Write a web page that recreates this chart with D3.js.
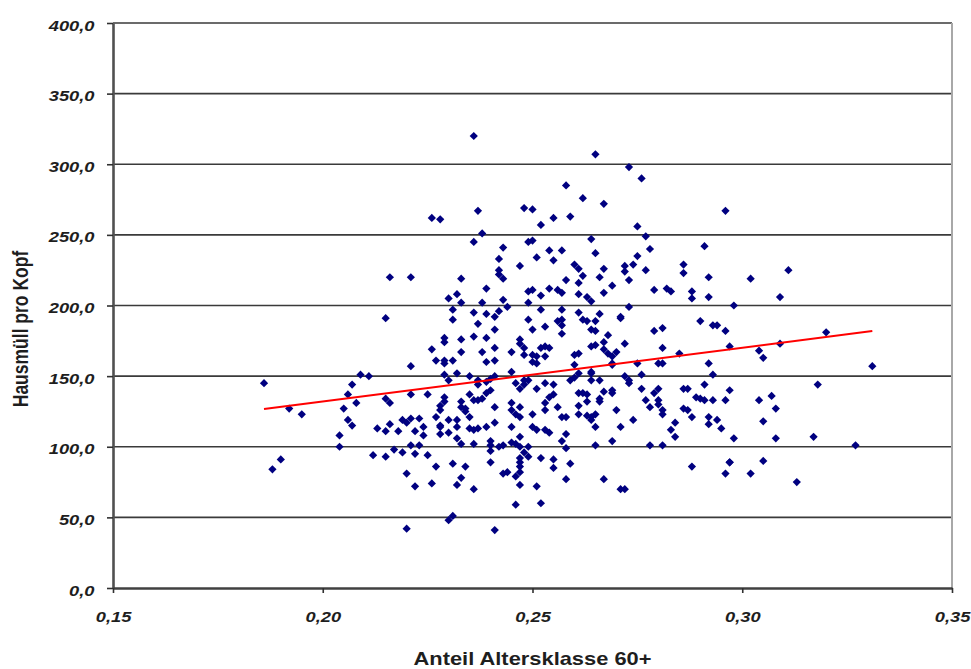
<!DOCTYPE html>
<html>
<head>
<meta charset="utf-8">
<title>Hausmüll pro Kopf</title>
<script src="https://cdn.jsdelivr.net/npm/d3@7"></script>
<style>
  html, body { margin: 0; padding: 0; background: #fff; }
  svg { display: block; font-family: "Liberation Sans", Arial, sans-serif; }
</style>
</head>
<body>
<svg id="chart" width="971" height="669"></svg>
<script>
// axis ticks
const xTicks = [0.15, 0.20, 0.25, 0.30, 0.35];
const yTicks = [0, 50, 100, 150, 200, 250, 300, 350, 400];

// trend line y = intercept + slope * x
const trendSlope = 380.4;
const trendIntercept = 56.0;

// Anteil Altersklasse 60+  vs  Hausmüll pro Kopf
const points = [
  // left part
  [0.186,145],[0.188,84],[0.190,91],[0.192,127],[0.195,123],
  [0.204,108],[0.204,100],[0.205,127],[0.206,119],[0.207,115],[0.206,137],[0.207,144],[0.208,131],[0.209,151],[0.211,150],
  [0.212,94],[0.215,93],[0.213,113],[0.215,111],[0.215,134],[0.216,131],[0.216,116],
  [0.221,157],[0.221,137],[0.225,137],
  [0.217,98],[0.219,96],[0.218,111],[0.219,119],[0.220,117],[0.221,120],
  [0.220,81],[0.222,72],[0.220,42],[0.222,95],[0.225,94],[0.227,86],[0.226,74],
  [0.223,120],[0.224,114],[0.224,108],[0.222,111],[0.221,101],[0.223,101],
  // upper left middle
  [0.215,191],[0.216,220],[0.221,220],[0.226,262],[0.228,261],[0.236,320],[0.237,267],[0.238,251],[0.236,245],
  [0.243,241],[0.242,233],[0.247,228],[0.242,225],[0.242,222],[0.243,219],[0.233,219],[0.239,212],[0.232,208],
  [0.230,205],[0.233,202],[0.238,202],[0.243,204],[0.244,199],[0.231,197],[0.236,195],[0.239,194],[0.241,192],
  [0.242,196],[0.231,190],[0.237,187],[0.241,183],[0.248,269],[0.249,202],[0.249,245],[0.249,190],[0.249,210],
  [0.229,177],[0.236,178],[0.239,177],[0.233,176],[0.247,176],
  // upper right middle
  [0.265,307],[0.273,298],[0.276,290],[0.258,285],[0.262,276],[0.267,272],[0.250,268],[0.252,257],[0.255,262],
  [0.259,263],[0.296,267],[0.275,256],[0.277,249],[0.264,247],[0.250,246],[0.254,239],[0.257,239],[0.251,234],
  [0.255,232],[0.265,237],[0.278,240],[0.275,235],[0.291,242],[0.260,229],[0.261,226],[0.272,228],[0.274,229],
  [0.272,224],[0.267,226],[0.277,225],[0.286,229],[0.286,223],[0.292,220],[0.262,221],[0.261,216],[0.258,218],
  [0.266,220],[0.273,218],[0.269,214],[0.250,211],[0.254,212],[0.256,211],[0.257,209],[0.252,207],[0.261,208],
  [0.263,206],[0.264,203],[0.267,209],[0.279,211],[0.282,212],[0.283,210],[0.288,210],[0.288,205],[0.292,206],
  [0.252,197],[0.257,197],[0.261,195],[0.266,194],[0.273,199],[0.262,190],[0.263,189],[0.256,189],[0.257,190],
  [0.257,186],[0.265,189],[0.271,191],[0.271,192],[0.250,183],[0.253,185],[0.264,183],[0.265,182],[0.257,180],
  [0.268,179],[0.279,182],[0.281,184],[0.290,189],[0.293,186],[0.294,186],[0.296,182],
  // right part
  [0.302,219],[0.311,225],[0.298,200],[0.309,206],[0.304,168],[0.305,163],[0.309,173],[0.320,181],
  [0.331,157],[0.297,140],[0.304,133],[0.307,136],[0.308,127],[0.318,144],[0.305,118],[0.298,106],[0.308,106],
  [0.317,107],[0.327,101],[0.297,89],[0.305,90],[0.302,81],[0.313,75],
  // lower right middle
  [0.272,173],[0.264,171],[0.265,172],[0.267,174],[0.252,170],[0.253,171],[0.254,170],[0.250,165],[0.251,164],
  [0.253,164],[0.250,160],[0.251,159],[0.260,165],[0.261,166],[0.267,169],[0.268,166],[0.269,164],[0.270,167],
  [0.281,170],[0.285,166],[0.297,171],
  [0.260,158],[0.264,153],[0.264,152],[0.269,158],[0.269,159],[0.275,159],[0.280,159],[0.281,159],[0.292,159],[0.293,151],
  [0.249,147],[0.253,145],[0.259,147],[0.260,149],[0.261,152],[0.264,147],[0.266,147],[0.272,150],[0.273,147],
  [0.273,145],[0.276,151],
  [0.251,141],[0.255,144],[0.261,138],[0.262,138],[0.263,137],[0.267,139],[0.269,138],[0.269,140],[0.276,141],
  [0.279,138],[0.280,141],[0.286,141],[0.287,141],[0.291,144],
  [0.254,135],[0.255,137],[0.253,131],[0.253,126],[0.256,128],[0.261,129],[0.263,132],[0.266,134],[0.266,132],
  [0.277,133],[0.278,128],[0.280,133],[0.280,130],[0.281,126],[0.281,123],[0.289,135],[0.290,134],[0.291,133],
  [0.293,133],[0.296,133],
  [0.250,123],[0.257,121],[0.258,121],[0.261,123],[0.263,122],[0.264,121],[0.264,119],[0.265,123],[0.270,126],
  [0.274,119],[0.286,127],[0.287,126],[0.288,121],[0.292,121],[0.294,119],[0.292,116],[0.295,113],[0.284,117],
  [0.283,112],[0.284,107],
  [0.250,114],[0.251,112],[0.253,112],[0.254,110],[0.258,109],[0.257,104],[0.258,99],[0.265,114],[0.271,114],
  [0.269,104],[0.265,101],[0.278,101],[0.281,101],
  [0.252,92],[0.255,91],[0.255,85],[0.259,88],[0.258,77],[0.267,77],[0.271,70],[0.272,70],[0.288,86],[0.296,81],
  [0.251,72],[0.252,60],[0.297,89],
  // lower left middle
  [0.230,48],[0.231,51],[0.231,88],[0.234,86],[0.232,73],[0.233,78],[0.236,70],
  [0.226,169],[0.227,161],[0.229,161],[0.229,159],[0.229,174],[0.231,161],[0.233,167],[0.241,170],[0.238,167],
  [0.239,160],[0.241,161],[0.245,167],[0.247,173],[0.248,170],[0.248,165],
  [0.229,151],[0.230,147],[0.232,152],[0.235,150],[0.237,144],[0.237,147],[0.239,146],[0.240,148],[0.241,150],
  [0.245,153],[0.246,145],[0.247,141],[0.248,147],[0.248,144],
  [0.229,135],[0.229,132],[0.228,129],[0.228,126],[0.227,121],[0.230,119],[0.232,119],[0.233,132],[0.234,127],
  [0.234,125],[0.233,128],[0.235,137],[0.236,133],[0.237,133],[0.238,134],[0.239,138],[0.240,140],[0.241,128],
  [0.245,131],[0.245,126],[0.247,128],
  [0.228,114],[0.228,115],[0.228,109],[0.230,110],[0.232,114],[0.232,106],[0.233,102],[0.235,121],[0.236,112],
  [0.235,113],[0.236,102],[0.237,113],[0.239,114],[0.241,117],[0.240,104],[0.240,101],[0.242,100],[0.243,101],
  [0.245,103],[0.246,102],[0.245,114],[0.246,123],[0.247,121],
  [0.247,107],[0.247,100],[0.248,96],[0.247,92],[0.247,89],[0.247,86],[0.247,82],[0.243,81],[0.244,82],[0.246,79],
  [0.247,73],[0.240,89],[0.240,97],[0.246,59],[0.241,41],[0.249,93],[0.249,100]
];

const width = 971;
const height = 669;
const plot = { left: 113, right: 952, top: 23, bottom: 588 };
const textStretch = 1.22; // the original picture is widened horizontally

const svg = d3.select('#chart');

const x = d3.scaleLinear().domain([0.15, 0.35]).range([plot.left, plot.right]);
const y = d3.scaleLinear().domain([0, 400]).range([plot.bottom, plot.top]);

const de = d3.formatLocale({ decimal: ',', thousands: '.', grouping: [3], currency: ['', ' €'] });
const fmtX = de.format('.2f');
const fmtY = de.format('.1f');

// horizontal grid lines
svg.append('g')
  .attr('class', 'grid')
  .selectAll('line')
  .data(yTicks.filter(d => d > 0))
  .join('line')
  .attr('x1', plot.left)
  .attr('x2', plot.right)
  .attr('y1', d => y(d))
  .attr('y2', d => y(d))
  .attr('stroke', '#3a3a3a')
  .attr('stroke-width', 1.7);

// right border of the plot area
svg.append('line')
  .attr('x1', plot.right).attr('x2', plot.right)
  .attr('y1', plot.top).attr('y2', plot.bottom)
  .attr('stroke', '#a8a8a8')
  .attr('stroke-width', 2);

// y axis
const yAxis = svg.append('g')
  .attr('transform', `translate(${plot.left},0)`)
  .call(d3.axisLeft(y).tickValues(yTicks).tickSize(6).tickSizeOuter(0).tickFormat(fmtY));

yAxis.select('.domain')
  .attr('stroke', '#505050')
  .attr('stroke-width', 2.6);
yAxis.selectAll('.tick line')
  .attr('stroke', '#303030')
  .attr('stroke-width', 1.6);
yAxis.selectAll('.tick text')
  .attr('x', null)
  .attr('dy', null)
  .attr('transform', `translate(-18.5,7) scale(${textStretch},1)`)
  .attr('text-anchor', 'end')
  .attr('fill', '#1e1e1e')
  .style('font-size', '15px')
  .style('font-weight', 'bold')
  .style('font-style', 'italic');

// x axis
const xAxis = svg.append('g')
  .attr('transform', `translate(0,${plot.bottom})`)
  .call(d3.axisBottom(x).tickValues(xTicks).tickSize(5).tickSizeOuter(0).tickFormat(fmtX));

xAxis.select('.domain')
  .attr('stroke', '#404040')
  .attr('stroke-width', 2.4);
xAxis.selectAll('.tick line')
  .attr('stroke', '#303030')
  .attr('stroke-width', 1.6);
xAxis.selectAll('.tick text')
  .attr('y', null)
  .attr('dy', null)
  .attr('transform', `translate(0,34) scale(${textStretch},1)`)
  .attr('text-anchor', 'middle')
  .attr('fill', '#1e1e1e')
  .style('font-size', '15px')
  .style('font-weight', 'bold')
  .style('font-style', 'italic');

// scatter points as small diamonds
const diamond = d3.symbol().type(d3.symbolSquare).size(34);
svg.append('g')
  .attr('class', 'points')
  .selectAll('path')
  .data(points)
  .join('path')
  .attr('d', diamond)
  .attr('transform', d => `translate(${x(d[0])},${y(d[1])}) rotate(45)`)
  .attr('fill', '#000080');

// linear trend line over the data range
const xExtent = d3.extent(points, d => d[0]);
svg.append('line')
  .attr('x1', x(xExtent[0]))
  .attr('x2', x(xExtent[1]))
  .attr('y1', y(trendIntercept + trendSlope * xExtent[0]))
  .attr('y2', y(trendIntercept + trendSlope * xExtent[1]))
  .attr('stroke', '#ff0000')
  .attr('stroke-width', 2);

// axis titles
svg.append('text')
  .attr('transform', `translate(${(plot.left + plot.right) / 2},665) scale(1.25,1)`)
  .attr('text-anchor', 'middle')
  .attr('fill', '#1e1e1e')
  .style('font-size', '17.5px')
  .style('font-weight', 'bold')
  .text('Anteil Altersklasse 60+');

svg.append('text')
  .attr('transform', `translate(27.5,329) scale(${textStretch},1) rotate(-90)`)
  .attr('text-anchor', 'middle')
  .attr('fill', '#1e1e1e')
  .style('font-size', '17.5px')
  .style('font-weight', 'bold')
  .text('Hausmüll pro Kopf');
</script>
</body>
</html>
